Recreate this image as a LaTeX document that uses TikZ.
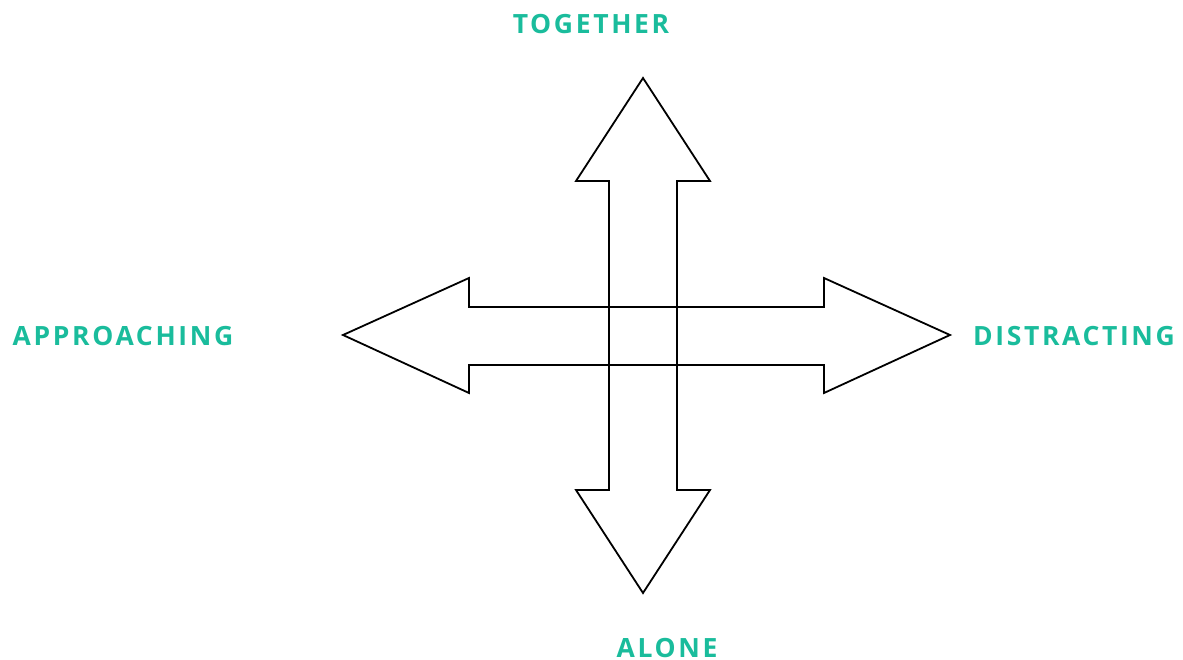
\documentclass[tikz,border=0pt]{standalone}
\usepackage{fontspec}
\setmainfont{Open Sans}
\newfontfamily\labelfont[LetterSpace=10]{Open Sans Bold}
\definecolor{teal}{HTML}{1ABC9C}
\begin{document}
\begin{tikzpicture}[x=1pt,y=-1pt,
  arrowshape/.style={draw=black,line width=1.8pt,line join=miter},
  lbl/.style={text=teal,font=\labelfont\fontsize{26.5}{30}\selectfont,inner sep=0pt,anchor=center}]
\useasboundingbox (0,0) rectangle (1183,660);
% vertical double arrow
\draw[arrowshape] (643,78) -- (710,181) -- (677,181) -- (677,490) -- (710,490) -- (643,593) -- (576,490) -- (609,490) -- (609,181) -- (576,181) -- cycle;
% horizontal double arrow
\draw[arrowshape] (343,335) -- (469,278) -- (469,307) -- (824,307) -- (824,278) -- (950,335) -- (824,393) -- (824,365) -- (469,365) -- (469,393) -- cycle;
\node[lbl] (together) at (591,24) {TOGETHER};
\node[lbl] (approaching) at (123,336) {APPROACHING};
\node[lbl] (distracting) at (1074,336) {DISTRACTING};
\node[lbl] (alone) at (667,648) {ALONE};
\end{tikzpicture}
\end{document}
